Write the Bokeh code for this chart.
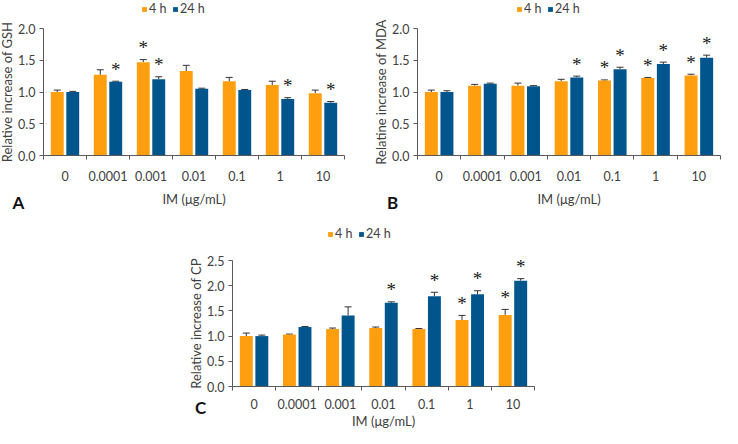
from bokeh.plotting import figure
from bokeh.models import (Range1d, FixedTicker, PrintfTickFormatter,
                          Whisker, TeeHead, ColumnDataSource, Legend, LegendItem, Label,
                          LabelSet, Spacer)
from bokeh.layouts import column, row
from bokeh.embed import file_html
from bokeh.resources import INLINE

categories = ["0", "0.0001", "0.001", "0.01", "0.1", "1", "10"]
series_names = ["4 h", "24 h"]

gsh_4h = [1.00, 1.27, 1.47, 1.33, 1.17, 1.11, 0.98]
gsh_4h_err = [0.03, 0.08, 0.04, 0.09, 0.06, 0.06, 0.05]
gsh_24h = [1.00, 1.16, 1.20, 1.05, 1.03, 0.89, 0.83]
gsh_24h_err = [0.01, 0.01, 0.04, 0.01, 0.01, 0.02, 0.02]
gsh_4h_sig = [0, 0, 1, 0, 0, 0, 0]
gsh_24h_sig = [0, 1, 1, 0, 0, 1, 1]

mda_4h = [1.00, 1.10, 1.10, 1.17, 1.18, 1.22, 1.26]
mda_4h_err = [0.03, 0.02, 0.04, 0.03, 0.01, 0.01, 0.02]
mda_24h = [1.00, 1.13, 1.09, 1.23, 1.36, 1.44, 1.54]
mda_24h_err = [0.02, 0.01, 0.01, 0.02, 0.03, 0.03, 0.04]
mda_4h_sig = [0, 0, 0, 0, 1, 1, 1]
mda_24h_sig = [0, 0, 0, 1, 1, 1, 1]

cp_4h = [1.00, 1.03, 1.14, 1.16, 1.14, 1.32, 1.42]
cp_4h_err = [0.06, 0.01, 0.02, 0.02, 0.01, 0.09, 0.11]
cp_24h = [1.00, 1.18, 1.41, 1.66, 1.79, 1.83, 2.10]
cp_24h_err = [0.02, 0.01, 0.17, 0.02, 0.08, 0.07, 0.04]
cp_4h_sig = [0, 0, 0, 0, 0, 1, 1]
cp_24h_sig = [0, 0, 0, 1, 1, 1, 1]

ORANGE = "#FF9E0F"
BLUE = "#00568C"
TXT = "#404040"
AXC = "#595959"
FONT = "Lato"


def panel(W, H, xpx, ypx, ymax, ylabel, letter, letter_xy, legend_xy,
          v4, e4, s4, v24, e24, s24, tick_standoff, label_standoff, ylab_standoff):
    n = len(categories)
    # map the frame (= whole figure) so that the category span and value span
    # land at the wanted pixel positions
    dx = n / (xpx[1] - xpx[0])
    x0 = -xpx[0] * dx
    x1 = n + (W - xpx[1]) * dx
    dy = ymax / (ypx[0] - ypx[1])
    y0 = -(H - ypx[0]) * dy
    y1 = ymax + ypx[1] * dy

    p = figure(width=W, height=H, output_backend="svg", toolbar_location=None,
               x_range=Range1d(x0, x1), y_range=Range1d(y0, y1),
               min_border=0, min_border_left=0, min_border_right=0,
               min_border_top=0, min_border_bottom=0)
    p.outline_line_color = None
    p.grid.visible = False
    p.background_fill_color = "white"
    p.border_fill_color = "white"

    # x axis at y = 0: labels at category centres, minor ticks at boundaries
    centers = [i + 0.5 for i in range(n)]
    xa = p.xaxis[0]
    xa.fixed_location = 0
    xa.bounds = (0, n)
    xa.ticker = FixedTicker(ticks=centers, minor_ticks=list(range(n + 1)))
    xa.major_label_overrides = {c: cat for c, cat in zip(centers, categories)}
    xa.major_tick_line_color = None
    xa.major_tick_in = 0
    xa.major_tick_out = 0
    xa.minor_tick_in = 0
    xa.minor_tick_out = 4
    xa.minor_tick_line_color = AXC
    xa.axis_line_color = AXC
    xa.major_label_standoff = tick_standoff
    xa.major_label_text_font = FONT
    xa.major_label_text_font_size = "12.5px"
    xa.major_label_text_color = TXT
    xa.axis_label = "IM (μg/mL)"
    xa.axis_label_text_font = FONT
    xa.axis_label_text_font_size = "13px"
    xa.axis_label_text_font_style = "normal"
    xa.axis_label_text_color = TXT
    xa.axis_label_standoff = label_standoff

    ya = p.yaxis[0]
    ya.fixed_location = 0
    ya.bounds = (0, ymax)
    ya.ticker = FixedTicker(ticks=[i * 0.5 for i in range(int(round(ymax / 0.5)) + 1)])
    ya.formatter = PrintfTickFormatter(format="%.1f")
    ya.major_tick_in = 0
    ya.major_tick_out = 4
    ya.minor_tick_line_color = None
    ya.axis_line_color = AXC
    ya.major_tick_line_color = AXC
    ya.major_label_text_font = FONT
    ya.major_label_text_font_size = "12.5px"
    ya.major_label_text_color = TXT
    ya.major_label_standoff = 4
    ya.axis_label = ylabel
    ya.axis_label_text_font = FONT
    ya.axis_label_text_font_size = "13px"
    ya.axis_label_text_font_style = "normal"
    ya.axis_label_text_color = TXT
    ya.axis_label_standoff = ylab_standoff

    off = 0.18
    renderers = []
    for vals, errs, sig, d, col in [(v4, e4, s4, -off, ORANGE), (v24, e24, s24, off, BLUE)]:
        xs = [i + 0.5 + d for i in range(n)]
        src = ColumnDataSource(dict(x=xs, top=vals, up=[v + e for v, e in zip(vals, errs)]))
        r = p.vbar(x="x", top="top", bottom=0, width=0.30, source=src,
                   fill_color=col, line_color=None)
        renderers.append(r)
        w = Whisker(base="x", lower="top", upper="up", source=src, dimension="height",
                    line_color="#333333", line_width=1,
                    upper_head=TeeHead(size=7, line_color="#333333", line_width=1),
                    lower_head=None)
        p.add_layout(w)
        ssrc = ColumnDataSource(dict(
            x=[x for x, s in zip(xs, sig) if s],
            y=[v + e for v, e, s in zip(vals, errs, sig) if s],
            t=["*" for s in sig if s]))
        p.add_layout(LabelSet(x="x", y="y", text="t", source=ssrc,
                              text_font="DejaVu Sans", text_font_size="19px",
                              text_align="center", text_baseline="middle",
                              y_offset=12, text_color="#1a1a1a"))

    legend = Legend(items=[LegendItem(label=series_names[0], renderers=[renderers[0]]),
                           LegendItem(label=series_names[1], renderers=[renderers[1]])],
                    orientation="horizontal",
                    location=(legend_xy[0], H - legend_xy[1] - 7),
                    glyph_width=6, glyph_height=6, label_standoff=2, spacing=3,
                    padding=0, margin=0, border_line_color=None, background_fill_alpha=0,
                    label_text_font=FONT, label_text_font_size="12.5px",
                    label_text_color=TXT, label_height=12)
    p.add_layout(legend)

    p.add_layout(Label(x=letter_xy[0], y=H - letter_xy[1], x_units="screen", y_units="screen",
                       text=letter, text_font=FONT, text_font_style="bold",
                       text_font_size="17px", text_align="center", text_baseline="middle",
                       text_color="#111111"))
    return p


pA = panel(358, 212, (43, 344), (155, 28), 2.0, "Relative increase of GSH", "A",
           (18, 202), (141, 9),
           gsh_4h, gsh_4h_err, gsh_4h_sig, gsh_24h, gsh_24h_err, gsh_24h_sig,
           11, 7, 0)
pB = panel(364, 212, (59, 362), (155, 28), 2.0, "Relatine increase of MDA", "B",
           (34, 202), (158, 9),
           mda_4h, mda_4h_err, mda_4h_sig, mda_24h, mda_24h_err, mda_24h_sig,
           11, 7, 0)
pC = panel(360, 216, (50, 352), (174, 48), 2.5, "Relative increase of CP", "C",
           (18, 195), (145, 22),
           cp_4h, cp_4h_err, cp_4h_sig, cp_24h, cp_24h_err, cp_24h_sig,
           8, 1, 0)

layout = column(row(pA, pB), row(Spacer(width=182, height=216), pC))
open("out.html", "w").write(file_html(layout, INLINE))
